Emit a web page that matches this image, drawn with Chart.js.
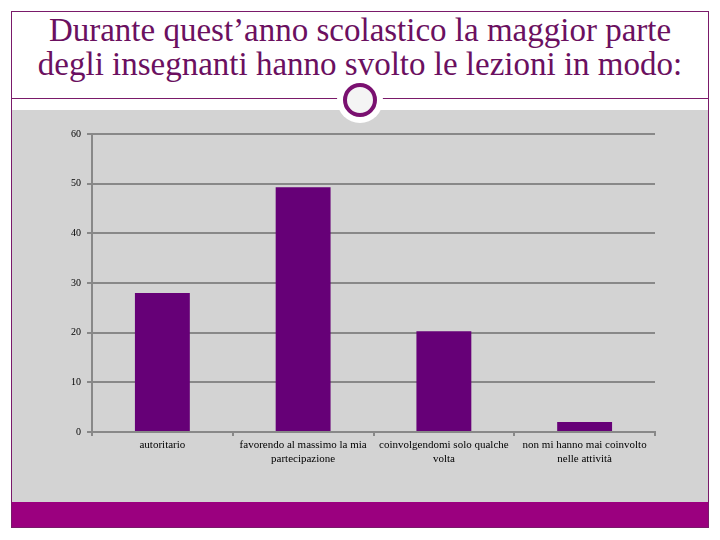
<!DOCTYPE html>
<html>
<head>
<meta charset="utf-8">
<script src="https://cdn.jsdelivr.net/npm/chart.js@4"></script>
<style>
  body { margin: 0; background: #fff; width: 720px; height: 540px; position: relative; overflow: hidden; }
  #frame { position: absolute; left: 11px; top: 11px; width: 696px; height: 515px; border: 1px solid #7a1a6a; box-sizing: content-box; }
  #title { position: absolute; left: 12px; top: 13px; width: 696px; text-align: center; font-family: "Liberation Serif", serif; font-size: 33px; line-height: 34px; color: #6b1060; }
  #rule { position: absolute; left: 12px; top: 98px; width: 696px; height: 1px; background: #7a1a6a; }
  #plot { position: absolute; left: 12px; top: 110px; width: 696px; height: 392px; background: #d3d3d3; }
  #band { position: absolute; left: 12px; top: 502px; width: 696px; height: 25px; background: #9b007f; }
  #halo { position: absolute; left: 337px; top: 77px; width: 46px; height: 46px; border-radius: 50%; background: #fff; }
  #ring { position: absolute; left: 343px; top: 83px; width: 26px; height: 26px; border-radius: 50%; border: 4px solid #7a1070; background: #f4f4f4; }
</style>
</head>
<body>
<div id="frame"></div>
<div id="title">Durante quest’anno scolastico la maggior parte<br>degli insegnanti hanno svolto le lezioni in modo:</div>
<div id="rule"></div>
<div id="plot"><canvas id="chart" width="696" height="392"></canvas></div>
<div id="band"></div>
<div id="halo"></div>
<div id="ring"></div>
<script>
const categorie = [
    'autoritario',
    ['favorendo al massimo la mia', 'partecipazione'],
    ['coinvolgendomi solo qualche', 'volta'],
    ['non mi hanno mai coinvolto', 'nelle attività']
];
const valori = [28, 49.3, 20.3, 2];
const tickY = [0, 10, 20, 30, 40, 50, 60];

new Chart(document.getElementById('chart'), {
    type: 'bar',
    data: {
        labels: categorie,
        datasets: [{
            data: valori,
            backgroundColor: '#660077',
            barPercentage: 0.39,
            categoryPercentage: 1
        }]
    },
    options: {
        responsive: false,
        animation: false,
        layout: { padding: { left: 0, top: 24, right: 53, bottom: 0 } },
        plugins: { legend: { display: false }, tooltip: { enabled: false } },
        scales: {
            x: {
                afterFit: s => { s.height = 70; },
                grid: { drawOnChartArea: false, tickLength: 4, color: '#888', lineWidth: 2 },
                border: { color: '#888', width: 2 },
                ticks: { color: '#000', font: { family: 'Liberation Serif', size: 11 }, padding: 3, maxRotation: 0 }
            },
            y: {
                min: 0,
                max: 60,
                afterFit: s => { s.width = 80; },
                afterBuildTicks: s => { s.ticks = tickY.map(v => ({ value: v })); },
                grid: { color: '#888', lineWidth: 2, tickLength: 5 },
                border: { color: '#888', width: 2 },
                ticks: { color: '#000', font: { family: 'Liberation Serif', size: 10 }, padding: 6 }
            }
        }
    }
});
</script>
</body>
</html>
